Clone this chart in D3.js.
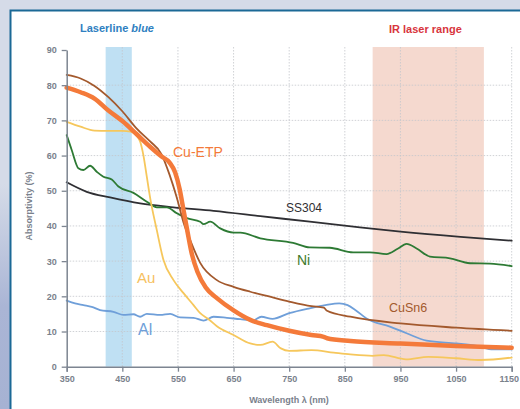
<!DOCTYPE html>
<html>
<head>
<meta charset="utf-8">
<script src="https://cdn.jsdelivr.net/npm/d3@7"></script>
<style>
  html, body { margin: 0; padding: 0; background: #d5dbe8; }
  svg { display: block; font-family: "Liberation Sans", Arial, sans-serif; }
</style>
</head>
<body>
<svg id="chart" width="520" height="409"></svg>
<script>
// wavelength ticks and absorptivity ticks
const xTicks = [350, 450, 550, 650, 750, 850, 950, 1050, 1150];
const yTicks = [0, 10, 20, 30, 40, 50, 60, 70, 80, 90];

// laser ranges (nm)
const blueBand = [420, 467];
const irBand = [900, 1100];

// series: wavelength (nm) / absorptivity (%)
const cuEtpWl = [350, 375, 400, 425, 450, 475, 500, 520, 535, 545, 553, 560, 567, 575, 585, 600, 620, 650, 680, 710, 750, 790, 812, 818, 860, 950, 1050, 1150];
const cuEtpVal = [79.3, 78, 76.2, 72.8, 69.8, 66.2, 62.5, 59.8, 58, 55.2, 50.5, 44.5, 38.5, 32, 27, 22.5, 19.5, 16, 13.3, 11.8, 10.2, 9, 8.5, 8.1, 7.3, 6.6, 5.9, 5.4];

const cuSn6Wl = [350, 375, 400, 425, 450, 475, 500, 520, 535, 548, 560, 572, 590, 620, 650, 680, 710, 750, 790, 812, 818, 860, 950, 1050, 1150];
const cuSn6Val = [82.9, 81.9, 79.8, 76.6, 72.6, 67.8, 64, 60.5, 54.5, 48, 41, 36, 29.5, 24.6, 22.7, 21.3, 20.1, 18.5, 17.2, 16.8, 15.9, 14.2, 12.3, 11.1, 10.2];

const auWl = [350, 375, 400, 425, 450, 465, 475, 482, 488, 494, 500, 512, 524, 542, 560, 578, 590, 605, 620, 650, 680, 698, 720, 735, 750, 790, 830, 860, 900, 920, 960, 1000, 1050, 1095, 1150];
const auVal = [69.6, 68.2, 67.1, 67, 67, 66.8, 65.8, 64, 60, 54, 48, 38.8, 30.3, 24.6, 20.9, 17.5, 15.2, 13.5, 11.5, 9, 6.6, 6.2, 7.1, 5.2, 4.5, 4.7, 4, 3.5, 3.1, 3.3, 2.1, 2.8, 2.4, 1.9, 2.6];

const alWl = [350, 365, 380, 395, 410, 434, 452, 470, 482, 494, 518, 536, 554, 578, 596, 614, 638, 662, 685, 700, 720, 750, 787, 815, 840, 855, 870, 889, 931, 961, 997, 1051, 1087, 1117, 1150];
const alVal = [18.8, 18, 17.5, 17, 16.1, 15.6, 14.7, 14.9, 14.2, 15, 14.7, 15, 14, 13.9, 13.1, 14.2, 13.9, 13.5, 13.2, 14.2, 13.6, 15.2, 16.6, 17.5, 18, 17.5, 16, 13.7, 11.4, 9.5, 7.4, 6.6, 5.9, 4.9, 4.9];

const niWl = [350, 359, 371, 380, 392, 404, 416, 431, 443, 470, 494, 512, 530, 548, 566, 590, 596, 608, 626, 650, 662, 698, 757, 787, 823, 865, 895, 925, 945, 961, 979, 1003, 1039, 1075, 1111, 1150];
const niVal = [65.8, 61.6, 56.4, 55.9, 57.1, 55.4, 54, 53.2, 51.2, 49.4, 46.9, 45.3, 45.3, 43.6, 42.2, 41.2, 40.5, 41.2, 39.3, 38.1, 38.1, 36.5, 35.2, 33.9, 33.8, 32.5, 32.5, 32, 33.5, 34.9, 33.6, 31.3, 30.8, 29.4, 29.3, 28.6];

const ss304Wl = [350, 386, 428, 482, 542, 614, 698, 787, 877, 950, 1058, 1150];
const ss304Val = [52.4, 49.7, 48.1, 46.4, 45.3, 44.3, 42.8, 41.2, 39.6, 38.4, 36.9, 35.8];

const series = [
  {name: 'SS304', wl: ss304Wl, val: ss304Val, color: '#2f2f33', width: 1.8},
  {name: 'Ni', wl: niWl, val: niVal, color: '#2d7a34', width: 1.8},
  {name: 'Al', wl: alWl, val: alVal, color: '#6f9fd9', width: 1.8},
  {name: 'Au', wl: auWl, val: auVal, color: '#f6c75c', width: 1.8},
  {name: 'CuSn6', wl: cuSn6Wl, val: cuSn6Val, color: '#a3592d', width: 1.8},
  {name: 'Cu-ETP', wl: cuEtpWl, val: cuEtpVal, color: '#f47a3a', width: 4.5}
];

const svg = d3.select('#chart');
const W = 520, H = 409;

// background + panel
const defs = svg.append('defs');
const grad = defs.append('linearGradient').attr('id', 'side')
  .attr('x1', 0).attr('y1', 0).attr('x2', 0).attr('y2', 1);
grad.append('stop').attr('offset', '0.45').attr('stop-color', '#d5dbe8');
grad.append('stop').attr('offset', '0.75').attr('stop-color', '#aab5d5');
grad.append('stop').attr('offset', '1').attr('stop-color', '#a6b2d3');
svg.append('rect').attr('width', W).attr('height', H).attr('fill', '#d5dbe8');
svg.append('rect').attr('x', 0).attr('y', 0).attr('width', 10).attr('height', H).attr('fill', 'url(#side)');
svg.append('rect').attr('x', 10.5).attr('y', 10.5).attr('width', W + 20).attr('height', H + 20)
  .attr('fill', '#fff').attr('stroke', '#1b6996').attr('stroke-width', 2);

const x = d3.scaleLinear().domain([350, 1150]).range([66.7, 511.7]);
const y = d3.scaleLinear().domain([0, 90]).range([366.7, 50]);
const plotTop = 47;

// laser bands
svg.append('rect')
  .attr('x', x(blueBand[0])).attr('width', x(blueBand[1]) - x(blueBand[0]))
  .attr('y', plotTop).attr('height', y(0) - plotTop)
  .attr('fill', '#bfe0f3');
svg.append('rect')
  .attr('x', x(irBand[0])).attr('width', x(irBand[1]) - x(irBand[0]))
  .attr('y', plotTop).attr('height', y(0) - plotTop)
  .attr('fill', '#f5d9cf');

// grid
const grid = svg.append('g').attr('stroke', '#c4c7cc').attr('stroke-width', 0.8).attr('stroke-dasharray', '1.5,1.5');
grid.selectAll('line.h').data(yTicks.filter(d => d > 0 && d < 90)).join('line')
  .attr('class', 'h')
  .attr('x1', x(350)).attr('x2', x(1150))
  .attr('y1', d => y(d)).attr('y2', d => y(d));
grid.selectAll('line.v').data(xTicks.slice(1)).join('line')
  .attr('class', 'v')
  .attr('x1', d => x(d)).attr('x2', d => x(d))
  .attr('y1', plotTop).attr('y2', y(0));

// curves
const line = d3.line().curve(d3.curveMonotoneX).x(d => x(d[0])).y(d => y(d[1]));
svg.append('g').selectAll('path').data(series).join('path')
  .attr('d', s => line(d3.zip(s.wl, s.val)))
  .attr('fill', 'none')
  .attr('stroke', s => s.color)
  .attr('stroke-width', s => s.width)
  .attr('stroke-linejoin', 'round')
  .attr('stroke-linecap', 'round');

// axes
const axisColor = '#7d8591';
const labelColor = '#7a818c';
const tickFont = '"Liberation Sans", Arial, sans-serif';
svg.append('g')
  .attr('transform', `translate(0,${y(0)})`)
  .call(d3.axisBottom(x).tickValues(xTicks).tickFormat(d3.format('d')).tickSize(5).tickPadding(4))
  .call(g => g.select('.domain').attr('stroke', axisColor).attr('stroke-width', 1.5))
  .call(g => g.selectAll('.tick line').attr('stroke', axisColor).attr('stroke-width', 1.3))
  .call(g => g.selectAll('.tick text').attr('fill', labelColor)
    .attr('font-size', 9).attr('font-weight', 'bold').attr('font-family', tickFont)
    .attr('dx', d => d === 1150 ? -3 : 0));

svg.append('g')
  .attr('transform', `translate(${x(350)},0)`)
  .call(d3.axisLeft(y).tickValues(yTicks).tickSize(5).tickPadding(5).tickSizeOuter(0))
  .call(g => g.select('.domain').attr('stroke', axisColor).attr('stroke-width', 1.5))
  .call(g => g.selectAll('.tick line').attr('stroke', axisColor).attr('stroke-width', 1.3))
  .call(g => g.selectAll('.tick text').attr('fill', labelColor)
    .attr('font-size', 9).attr('font-weight', 'bold').attr('font-family', tickFont));

svg.append('text')
  .attr('x', 289).attr('y', 403).attr('text-anchor', 'middle')
  .attr('fill', labelColor).attr('font-size', 9).attr('font-weight', 'bold')
  .text('Wavelength λ (nm)');
svg.append('text')
  .attr('transform', 'translate(32,206) rotate(-90)').attr('text-anchor', 'middle')
  .attr('fill', labelColor).attr('font-size', 9).attr('font-weight', 'bold')
  .text('Absorptivity (%)');

// band titles
const lb = svg.append('text').attr('x', 80).attr('y', 32)
  .attr('fill', '#2f7fc1').attr('font-size', 11).attr('font-weight', 'bold');
lb.append('tspan').text('Laserline ');
lb.append('tspan').attr('font-style', 'italic').text('blue');
svg.append('text').attr('x', 389).attr('y', 33)
  .attr('fill', '#d8353d').attr('font-size', 11).attr('font-weight', 'bold')
  .text('IR laser range');

// series labels
const labels = [
  {text: 'Cu-ETP', x: 173, y: 157, size: 14, color: '#f47a3a'},
  {text: 'SS304', x: 286, y: 211.5, size: 12, color: '#2f2f33'},
  {text: 'Ni', x: 297, y: 265, size: 14, color: '#3f7a2b'},
  {text: 'Au', x: 137, y: 283, size: 15, color: '#f6c160'},
  {text: 'Al', x: 138, y: 335, size: 16, color: '#6f9fd9'},
  {text: 'CuSn6', x: 389, y: 311.5, size: 12.5, color: '#a3592d'}
];
svg.append('g').selectAll('text').data(labels).join('text')
  .attr('x', d => d.x).attr('y', d => d.y)
  .attr('font-size', d => d.size).attr('fill', d => d.color)
  .text(d => d.text);
</script>
</body>
</html>
